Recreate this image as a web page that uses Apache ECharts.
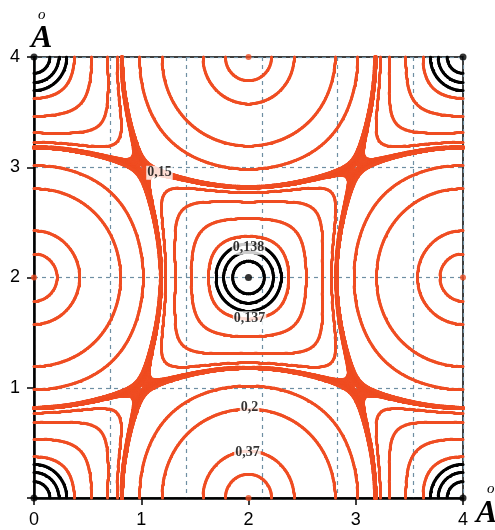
<!DOCTYPE html>
<html>
<head>
<meta charset="utf-8">
<script src="https://cdn.jsdelivr.net/npm/echarts@6/dist/echarts.min.js"></script>
<style>
  html, body { margin: 0; background: #fff; }
  #main { width: 495px; height: 530px; }
</style>
</head>
<body>
<div id="main"></div>
<script>
// axis ticks (Å)
var xTicks = [0, 1, 2, 3, 4];
var yTicks = [0, 1, 2, 3, 4];
var gridStep = 0.708;   // spacing of the dashed vertical grid

// atom sites inside the 4 x 4 cell
var bigAtoms = [[0, 2], [2, 0], [2, 4], [4, 2]];
var smallAtoms = [[0, 0], [0, 4], [4, 0], [4, 4], [2, 2]];

// contour levels read / estimated from the map
var redLevels = [0.6, 0.37, 0.2, 0.165, 0.147, 0.1425, 0.137, 0.1335];
// bunch of levels right at the saddle value -> the filled crosses
var saddleLevels = [0.1495, 0.14955, 0.1496, 0.14965, 0.1497, 0.14975, 0.1498, 0.14985,
                    0.1499, 0.14995, 0.15, 0.15005, 0.1501, 0.15015, 0.1502, 0.15025,
                    0.1503, 0.15035, 0.1504, 0.15045, 0.1505];
var blackLevels = [0.56, 0.645, 0.76];

// printed contour labels
var labelText = ['0,15', '0,138', '0,137', '0,2', '0,37'];
var labelX = [1.17, 2.0, 2.01, 2.01, 1.99];
var labelY = [2.95, 2.27, 1.63, 0.82, 0.41];

// model of the map: periodic sum of exp(-2r) round the big atoms
var decay = 2, ampl = 0.9264, base = 0.1163, power = 1.6;

var RED = '#ef4d22';

function lattice(parity) {
  var pts = [];
  for (var i = -8; i <= 12; i += 2) {
    for (var j = -8; j <= 12; j += 2) {
      if ((((i + j) % 4) + 4) % 4 === parity) pts.push([i, j]);
    }
  }
  return pts;
}
var bigLat = lattice(2);
var smallLat = lattice(0);

function sumExp(pts, x, y) {
  var s = 0;
  for (var k = 0; k < pts.length; k++) {
    var dx = x - pts[k][0], dy = y - pts[k][1];
    s += Math.exp(-decay * Math.sqrt(dx * dx + dy * dy));
  }
  return s;
}

var N = 200, h = 4 / N;
function buildGrid(fn) {
  var g = [];
  for (var i = 0; i <= N; i++) {
    g.push([]);
    for (var j = 0; j <= N; j++) g[i].push(fn(i * h, j * h));
  }
  return g;
}
var bigGrid = buildGrid(function (x, y) {
  return base + ampl * Math.pow(sumExp(bigLat, x, y), power);
});
var smallGrid = buildGrid(function (x, y) { return sumExp(smallLat, x, y); });

// marching squares
function contour(g, L, out) {
  for (var i = 0; i < N; i++) {
    for (var j = 0; j < N; j++) {
      var a = g[i][j] - L, b = g[i + 1][j] - L, c = g[i + 1][j + 1] - L, d = g[i][j + 1] - L;
      if (a === 0) a = 1e-12; if (b === 0) b = 1e-12; if (c === 0) c = 1e-12; if (d === 0) d = 1e-12;
      var x0 = i * h, y0 = j * h, x1 = x0 + h, y1 = y0 + h;
      var e = [null, null, null, null];
      if (a * b < 0) e[0] = [x0 + h * a / (a - b), y0];
      if (b * c < 0) e[1] = [x1, y0 + h * b / (b - c)];
      if (c * d < 0) e[2] = [x1 - h * c / (c - d), y1];
      if (d * a < 0) e[3] = [x0, y1 - h * d / (d - a)];
      var n = 0, p = [];
      for (var k = 0; k < 4; k++) if (e[k]) { n++; p.push(e[k]); }
      if (n === 2) out.push({ coords: [p[0], p[1]] });
      else if (n === 4) {
        var m = (a + b + c + d) / 4;
        if (m * a > 0) { out.push({ coords: [e[0], e[1]] }); out.push({ coords: [e[2], e[3]] }); }
        else { out.push({ coords: [e[0], e[3]] }); out.push({ coords: [e[1], e[2]] }); }
      }
    }
  }
  return out;
}

var redSegs = [];
redLevels.concat(saddleLevels).forEach(function (L) { contour(bigGrid, L, redSegs); });
var blackSegs = [];
blackLevels.forEach(function (L) { contour(smallGrid, L, blackSegs); });

var labelData = labelText.map(function (t, k) { return { name: t, value: [labelX[k], labelY[k]] }; });

var chart = echarts.init(document.getElementById('main'));
var axisFont = { color: '#000', fontSize: 18, fontFamily: 'Liberation Sans' };
chart.setOption({
  animation: false,
  grid: { left: 34, right: 32, top: 57, bottom: 32, show: true, borderColor: '#000', borderWidth: 1.5 },
  xAxis: [{
    type: 'value', min: xTicks[0], max: xTicks[xTicks.length - 1], interval: 1,
    axisLine: { lineStyle: { color: '#000', width: 2.5 } },
    axisTick: { length: 7, lineStyle: { color: '#000', width: 1.5 } },
    axisLabel: Object.assign({ margin: 13 }, axisFont),
    splitLine: { show: false }
  }, {
    type: 'value', min: 0, max: 4, interval: gridStep, position: 'top',
    axisLine: { show: false }, axisTick: { show: false }, axisLabel: { show: false },
    splitLine: { show: true, lineStyle: { color: '#6f8fa3', type: [4, 4], width: 1.2 } }
  }],
  yAxis: {
    type: 'value', min: yTicks[0], max: yTicks[yTicks.length - 1], interval: 1,
    axisLine: { show: true, lineStyle: { color: '#000', width: 2.5 } },
    axisTick: { show: true, length: 7, lineStyle: { color: '#000', width: 1.5 } },
    axisLabel: Object.assign({ margin: 14, formatter: function (v) { return v === 0 ? '' : v; } }, axisFont),
    splitLine: { show: true, lineStyle: { color: '#6f8fa3', type: [4, 4], width: 1.2 } }
  },
  series: [{
    type: 'lines', coordinateSystem: 'cartesian2d', polyline: false, silent: true,
    lineStyle: { color: RED, width: 3, opacity: 1, cap: 'round' },
    data: redSegs, z: 3
  }, {
    type: 'lines', coordinateSystem: 'cartesian2d', polyline: false, silent: true,
    lineStyle: { color: '#000', width: 3, opacity: 1, cap: 'round' },
    data: blackSegs, z: 4
  }, {
    type: 'scatter', symbolSize: 6, itemStyle: { color: RED }, data: bigAtoms, z: 5, silent: true
  }, {
    type: 'scatter', symbolSize: 7, itemStyle: { color: '#000' }, data: smallAtoms, z: 5, silent: true
  }, {
    type: 'scatter', symbolSize: 0, data: labelData, z: 6, silent: true,
    label: {
      show: true, position: 'inside', formatter: '{b}', color: '#000',
      fontFamily: 'Liberation Serif', fontWeight: 'bold', fontSize: 14,
      backgroundColor: '#fff', padding: [0, 1]
    }
  }],
  graphic: [
    { type: 'text', left: 38, top: 8, style: { text: 'o', font: 'italic 15px "Liberation Serif"', fill: '#000' } },
    { type: 'text', left: 31, top: 23, style: { text: 'A', font: 'italic bold 32px "Liberation Serif"', fill: '#000' } },
    { type: 'text', left: 476, top: 498, style: { text: 'A', font: 'italic bold 32px "Liberation Serif"', fill: '#000' } },
    { type: 'text', left: 487, top: 482, style: { text: 'o', font: 'italic 15px "Liberation Serif"', fill: '#000' } }
  ]
});
</script>
</body>
</html>
